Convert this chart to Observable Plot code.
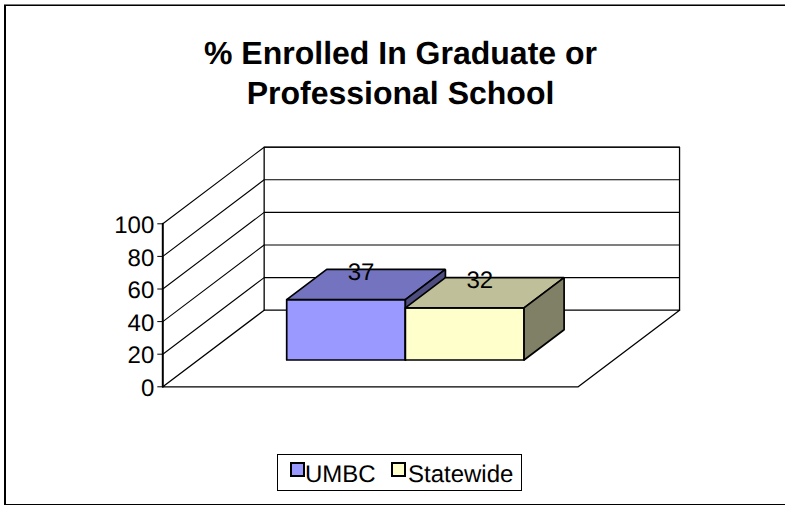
<!DOCTYPE html>
<html>
<head>
<meta charset="utf-8">
<script src="https://cdn.jsdelivr.net/npm/d3@7"></script>
<script src="https://cdn.jsdelivr.net/npm/@observablehq/plot@0.6"></script>
<style>
html,body{margin:0;padding:0;background:#fff;}
#page{position:relative;width:785px;height:506px;overflow:hidden;font-family:"Liberation Sans",Arial,sans-serif;color:#000;text-rendering:geometricPrecision;}
#edge{position:absolute;left:4px;top:5px;width:800px;height:500px;box-sizing:border-box;border-left:2px solid #000;border-top:1px solid #000;border-bottom:1px solid #000;box-shadow:0 -1px 0 #777;}
#title{position:absolute;left:0;top:33px;width:801px;text-align:center;font-weight:bold;font-size:32px;line-height:40px;}
#chart{position:absolute;left:0;top:130px;}
#legend{position:absolute;left:277px;top:454px;width:245px;height:37px;box-sizing:border-box;border:1px solid #000;background:#fff;font-size:24px;}
#legend span{position:absolute;top:7px;line-height:26px;}
#legend i{position:absolute;top:7px;width:15px;height:15px;box-sizing:border-box;border:2px solid #000;}
</style>
</head>
<body>
<div id="page">
  <div id="edge"></div>
  <div id="title">% Enrolled In Graduate or<br>Professional School</div>
  <div id="chart"></div>
  <div id="legend">
    <i style="left:12px;background:#9999FF"></i><span style="left:27px">UMBC</span>
    <i style="left:113px;background:#FFFFCC"></i><span style="left:130px">Statewide</span>
  </div>
</div>
<script>
const categories = ["UMBC", "Statewide"];
const values = [37, 32];
const yTicks = [0, 20, 40, 60, 80, 100];
const frontColors = ["#9999FF", "#FFFFCC"];
const topColors = ["#7373BF", "#BFBF99"];
const sideColors = ["#4D4D80", "#808066"];

// Oblique projection, all in data units: x = category slots, y = value, d = depth (0 front, 1 back)
const slots = 3.5, gap = 0.745;
const depthX = 0.854, depthY = 47;
const barFront = 0.35, barBack = 0.745;
const px = (x, d) => x + d * depthX;
const py = (v, d) => v + d * depthY;
const pt = (id, x, v, d) => ({id, x: px(x, d), y: py(v, d)});

const wall = [];
const grid = [];
for (const t of yTicks) {
  if (t === 0) continue;
  grid.push(pt("l" + t, 0, t, 0), pt("l" + t, 0, t, 1), pt("l" + t, slots, t, 1));
}
wall.push(pt("floor", 0, 0, 1), pt("floor", 0, 0, 0), pt("floor", slots, 0, 0), pt("floor", slots, 0, 1), pt("floor", 0, 0, 1));
wall.push(pt("back", 0, 0, 1), pt("back", 0, 100, 1), pt("back", slots, 100, 1), pt("back", slots, 0, 1));

const axisLine = [pt("axis", 0, 0, 0), pt("axis", 0, 100, 0)];

const faces = [];
categories.forEach((c, i) => {
  const a = gap + i, b = a + 1, v = values[i];
  const poly = (id, fill, corners) => [...corners, corners[0]].forEach(([x, val, d]) => faces.push({...pt(c + id, x, val, d), fill}));
  poly("front", frontColors[i], [[a, 0, barFront], [b, 0, barFront], [b, v, barFront], [a, v, barFront]]);
  poly("top", topColors[i], [[a, v, barFront], [b, v, barFront], [b, v, barBack], [a, v, barBack]]);
  poly("side", sideColors[i], [[b, 0, barFront], [b, 0, barBack], [b, v, barBack], [b, v, barFront]]);
});

const labels = categories.map((c, i) => ({
  text: String(values[i]),
  x: px(gap + i + 0.5, (barFront + barBack) / 2),
  y: py(values[i], (barFront + barBack) / 2)
}));

const plot = Plot.plot({
  width: 785,
  height: 310,
  marginLeft: 162.3,
  marginRight: 207.3,
  marginTop: 93.3,
  marginBottom: 53.7,
  style: {fontFamily: '"Liberation Sans", Arial, sans-serif', color: "#000", background: "transparent", overflow: "visible"},
  x: {domain: [0, slots], axis: null},
  y: {domain: [0, 100]},
  color: {type: "identity"},
  marks: [
    Plot.line(grid, {x: "x", y: "y", z: "id", stroke: "#000", strokeWidth: 1.1}),
    Plot.line(wall, {x: "x", y: "y", z: "id", stroke: "#000", strokeWidth: 1.3}),
    Plot.line(axisLine, {x: "x", y: "y", z: "id", stroke: "#000", strokeWidth: 2}),
    Plot.axisY({ticks: yTicks, tickSize: 5, text: null, label: null, stroke: "#000"}),
    Plot.axisY({ticks: yTicks, tickSize: 0, tickPadding: 8.5, dy: 1.5, fontSize: 24, label: null, fill: "#000"}),
    Plot.line(faces, {x: "x", y: "y", z: "id", fill: "fill", stroke: "#000", strokeWidth: 1.7, strokeLinejoin: "miter"}),
    Plot.text(labels, {x: "x", y: "y", text: "text", fontSize: 24, fill: "#000", dx: -5, dy: -12})
  ]
});
document.getElementById("chart").appendChild(plot);
</script>
</body>
</html>
